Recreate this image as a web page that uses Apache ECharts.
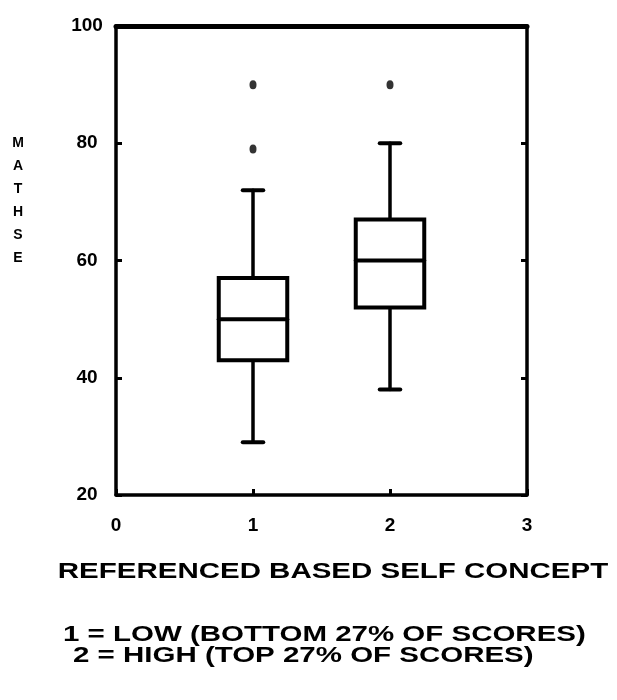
<!DOCTYPE html>
<html>
<head>
<meta charset="utf-8">
<title>Math SE by self concept group</title>
<script src="https://cdn.jsdelivr.net/npm/echarts@6/dist/echarts.min.js"></script>
<style>
  html, body { margin: 0; padding: 0; background: #fff; }
  #chart { width: 617px; height: 700px; }
</style>
</head>
<body>
<div id="chart"></div>
<script>
// Category positions along the x axis
const categories = ['0', '1', '2', '3'];
// Five-number summaries: [min, Q1, median, Q3, max]
const lowGroup = [29, 43, 50, 57, 72];
const highGroup = [38, 52, 60, 67, 80];
// Points outside the whiskers
const lowOutliers = [79, 90];
const highOutliers = [90];
// Value axis range
const yMin = 20;
const yMax = 100;
const yStep = 20;
// Text
const yTitle = ['M', 'A', 'T', 'H', 'S', 'E'];
const xTitle = 'REFERENCED BASED SELF CONCEPT';
const keyLines = ['1 = LOW (BOTTOM 27% OF SCORES)', '2 = HIGH (TOP 27% OF SCORES)'];

const boxRows = [[1].concat(lowGroup), [2].concat(highGroup)];
const outlierPoints = lowOutliers.map(v => [1, v]).concat(highOutliers.map(v => [2, v]));

const INK = '#000';
const tickFont = { color: INK, fontFamily: 'Liberation Sans', fontWeight: 'bold', fontSize: 19 };

function renderBox(params, api) {
  const x = api.value(0);
  const lo = api.coord([x, api.value(1)]);
  const q1 = api.coord([x, api.value(2)]);
  const md = api.coord([x, api.value(3)]);
  const q3 = api.coord([x, api.value(4)]);
  const hi = api.coord([x, api.value(5)]);
  const band = api.size([1, 0])[0];
  const half = band * 0.25;
  const cap = band * 0.075;
  const cx = lo[0];
  const line = { stroke: INK, lineWidth: 4, lineCap: 'round' };
  return {
    type: 'group',
    children: [
      { type: 'line', shape: { x1: cx, y1: q3[1], x2: cx, y2: hi[1] }, style: Object.assign({}, line, { lineWidth: 3.5 }) },
      { type: 'line', shape: { x1: cx, y1: q1[1], x2: cx, y2: lo[1] }, style: Object.assign({}, line, { lineWidth: 3.5 }) },
      { type: 'line', shape: { x1: cx - cap, y1: hi[1], x2: cx + cap, y2: hi[1] }, style: line },
      { type: 'line', shape: { x1: cx - cap, y1: lo[1], x2: cx + cap, y2: lo[1] }, style: line },
      { type: 'rect', shape: { x: cx - half, y: q3[1], width: half * 2, height: q1[1] - q3[1] },
        style: { fill: '#fff', stroke: INK, lineWidth: 4 } },
      { type: 'line', shape: { x1: cx - half, y1: md[1], x2: cx + half, y2: md[1] }, style: line }
    ]
  };
}

const chart = echarts.init(document.getElementById('chart'), null, { renderer: 'canvas' });

chart.setOption({
  animation: false,
  backgroundColor: '#fff',
  grid: { left: 116, right: 90, top: 26, bottom: 205 },
  xAxis: [
    {
      type: 'category', data: categories, boundaryGap: false, position: 'bottom',
      axisLine: { lineStyle: { color: INK, width: 3.5 } },
      axisTick: { inside: true, length: 6, lineStyle: { color: INK, width: 3 } },
      axisLabel: Object.assign({ margin: 21 }, tickFont),
      splitLine: { show: false }
    },
    {
      type: 'category', data: categories, boundaryGap: false, position: 'top',
      axisLine: { lineStyle: { color: INK, width: 5 } },
      axisTick: { show: false }, axisLabel: { show: false }, splitLine: { show: false }
    }
  ],
  yAxis: [
    {
      type: 'value', min: yMin, max: yMax, interval: yStep, position: 'left',
      axisLine: { show: true, lineStyle: { color: INK, width: 3.5 } },
      axisTick: { show: true, inside: true, length: 6, lineStyle: { color: INK, width: 3 } },
      axisLabel: Object.assign({ margin: 29, align: 'center' }, tickFont),
      splitLine: { show: false }
    },
    {
      type: 'value', min: yMin, max: yMax, interval: yStep, position: 'right',
      axisLine: { show: true, lineStyle: { color: INK, width: 3.5 } },
      axisTick: { show: true, inside: true, length: 6, lineStyle: { color: INK, width: 3 } },
      axisLabel: { show: false }, splitLine: { show: false }
    }
  ],
  series: [
    {
      type: 'custom',
      renderItem: renderBox,
      encode: { x: 0, y: [1, 2, 3, 4, 5] },
      data: boxRows,
      z: 3
    },
    {
      type: 'scatter',
      data: outlierPoints,
      symbol: 'circle',
      symbolSize: [7, 9],
      itemStyle: { color: INK },
      z: 4
    }
  ],
  graphic: [
    {
      type: 'text', x: 18, y: 132,
      style: {
        text: yTitle.join('\n'), align: 'center', verticalAlign: 'top',
        fontFamily: 'Liberation Sans', fontWeight: 'bold', fontSize: 14, lineHeight: 23, fill: INK
      }
    },
    {
      type: 'text', x: 333, y: 572, scaleX: 1.34,
      style: {
        text: xTitle, align: 'center', verticalAlign: 'middle',
        fontFamily: 'Liberation Sans', fontWeight: 'bold', fontSize: 22, fill: INK
      }
    },
    {
      type: 'text', x: 63, y: 635, scaleX: 1.34,
      style: {
        text: keyLines[0], align: 'left', verticalAlign: 'middle',
        fontFamily: 'Liberation Sans', fontWeight: 'bold', fontSize: 22, fill: INK
      }
    },
    {
      type: 'text', x: 73, y: 656, scaleX: 1.34,
      style: {
        text: keyLines[1], align: 'left', verticalAlign: 'middle',
        fontFamily: 'Liberation Sans', fontWeight: 'bold', fontSize: 22, fill: INK
      }
    }
  ]
});
</script>
</body>
</html>
